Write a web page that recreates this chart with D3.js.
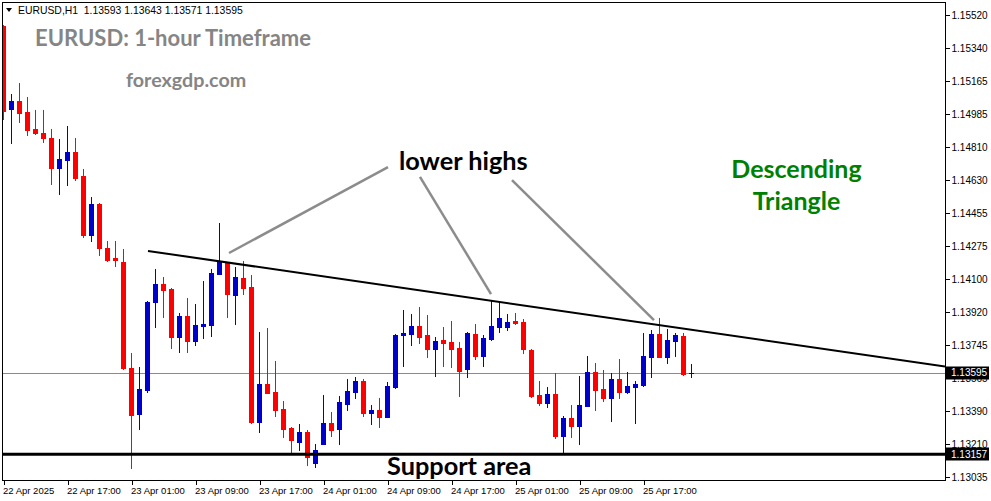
<!DOCTYPE html>
<html>
<head>
<meta charset="utf-8">
<script src="https://cdn.jsdelivr.net/npm/d3@7"></script>
<style>
  html, body { margin: 0; padding: 0; background: #fff; }
  svg { display: block; }
</style>
</head>
<body>
<svg id="chart" width="991" height="501"></svg>
<script>
// ---------- data ----------
const symbol = "EURUSD,H1";
const opens  = [1.15461,1.15014,1.15057,1.14998,1.14907,1.14885,1.14860,1.14699,1.14742,1.14783,
                1.14656,1.14338,1.14505,1.14265,1.14211,1.14190,1.13623,1.13375,1.13503,1.13978,
                1.14073,1.14046,1.13788,1.13901,1.13768,1.13847,1.13854,1.14128,1.14190,1.14014,
                1.14105,1.14057,1.13332,1.13535,1.13492,1.13401,1.13300,1.13223,1.13277,1.13112,
                1.13214,1.13325,1.13293,1.13430,1.13494,1.13551,1.13381,1.13395,1.13359,1.13519,
                1.13800,1.13806,1.13847,1.13799,1.13725,1.13772,1.13761,1.13729,1.13616,1.13804,
                1.13687,1.13777,1.13843,1.13843,1.13874,1.13869,1.13718,1.13476,1.13433,1.13481,
                1.13255,1.13352,1.13309,1.13417,1.13600,1.13508,1.13460,1.13562,1.13492,1.13519,
                1.13530,1.13680,1.13804,1.13680,1.13766,1.13793,1.13593];
const highs  = [1.15465,1.15095,1.15154,1.15079,1.15009,1.15009,1.14907,1.14855,1.14923,1.14858,
                1.14692,1.14541,1.14508,1.14304,1.14304,1.14261,1.13700,1.13628,1.13983,1.14154,
                1.14111,1.14050,1.13917,1.13998,1.13965,1.14089,1.14154,1.14403,1.14193,1.14166,
                1.14197,1.14122,1.13817,1.13838,1.13659,1.13444,1.13305,1.13320,1.13288,1.13212,
                1.13478,1.13385,1.13472,1.13562,1.13573,1.13562,1.13421,1.13460,1.13546,1.13804,
                1.13933,1.13913,1.13949,1.13906,1.13788,1.13842,1.13874,1.13761,1.13815,1.13858,
                1.13799,1.13982,1.13976,1.13912,1.13917,1.13885,1.13723,1.13551,1.13519,1.13594,
                1.13363,1.13422,1.13578,1.13686,1.13648,1.13611,1.13594,1.13670,1.13600,1.13551,
                1.13810,1.13826,1.13890,1.13831,1.13810,1.13810,1.13643];
const lows   = [1.14962,1.14833,1.14946,1.14875,1.14880,1.14838,1.14613,1.14559,1.14607,1.14634,
                1.14328,1.14306,1.14227,1.14197,1.14171,1.13618,1.13082,1.13293,1.13494,1.13842,
                1.13896,1.13730,1.13709,1.13709,1.13745,1.13784,1.13795,1.14128,1.13896,1.13858,
                1.14021,1.13324,1.13279,1.13485,1.13365,1.13250,1.13166,1.13180,1.13098,1.13087,
                1.13214,1.13255,1.13214,1.13398,1.13461,1.13365,1.13322,1.13306,1.13359,1.13514,
                1.13632,1.13747,1.13757,1.13682,1.13580,1.13632,1.13628,1.13472,1.13573,1.13670,
                1.13632,1.13772,1.13815,1.13826,1.13858,1.13704,1.13465,1.13422,1.13411,1.13245,
                1.13159,1.13250,1.13212,1.13417,1.13395,1.13444,1.13336,1.13460,1.13487,1.13325,
                1.13524,1.13573,1.13680,1.13648,1.13686,1.13585,1.13571];
const closes = [1.15005,1.15057,1.14994,1.14903,1.14887,1.14860,1.14699,1.14745,1.14783,1.14645,
                1.14337,1.14505,1.14268,1.14202,1.14202,1.13620,1.13368,1.13508,1.13978,1.14073,
                1.14041,1.13788,1.13901,1.13768,1.13853,1.13858,1.14132,1.14190,1.14021,1.14111,
                1.14052,1.13329,1.13535,1.13488,1.13395,1.13293,1.13234,1.13277,1.13144,1.13180,
                1.13325,1.13288,1.13438,1.13497,1.13551,1.13381,1.13395,1.13359,1.13524,1.13799,
                1.13811,1.13847,1.13790,1.13725,1.13766,1.13757,1.13725,1.13607,1.13810,1.13687,
                1.13783,1.13847,1.13890,1.13869,1.13863,1.13725,1.13471,1.13433,1.13481,1.13255,
                1.13352,1.13309,1.13422,1.13600,1.13503,1.13460,1.13562,1.13492,1.13524,1.13535,
                1.13686,1.13804,1.13680,1.13772,1.13799,1.13591,1.13595];

const priceTicks = [1.15520,1.15340,1.15165,1.14985,1.14810,1.14630,1.14455,1.14275,
                    1.14100,1.13920,1.13745,1.13565,1.13390,1.13210,1.13035];
const timeTickIdx    = [0, 8, 16, 24, 32, 40, 48, 56, 64, 72, 80];
const timeTickLabels = ["22 Apr 2025","22 Apr 17:00","23 Apr 01:00","23 Apr 09:00","23 Apr 17:00",
                        "24 Apr 01:00","24 Apr 09:00","24 Apr 17:00","25 Apr 01:00","25 Apr 09:00","25 Apr 17:00"];
const currentPrice = 1.13595;
const supportPrice = 1.13157;
// trend line (bar index, price)
const trendStart = [18.06, 1.14251];
const trendEnd   = [117.69, 1.13629];
// "lower highs" pointers: [fromIdx, fromPrice, toIdx, toPrice]
const pointers = [
  [48.06, 1.14702, 28.19, 1.14240],
  [52.06, 1.14649, 60.94, 1.14019],
  [63.56, 1.14632, 81.31, 1.13879]
];

// ---------- build ----------
const bars = opens.map((o, i) => ({ i, o, h: highs[i], l: lows[i], c: closes[i] }));

const svg = d3.select("#chart");
const W = 991, H = 501;
const plot = { left: 2, top: 2, right: 945, bottom: 480 };

svg.append("rect").attr("width", W).attr("height", H).attr("fill", "#fff");

const x = d3.scaleLinear().domain([0, 86]).range([3.5, 691.5]);
const y = d3.scaleLinear().domain([1.13019, 1.15590]).range([plot.bottom, plot.top]);

svg.append("clipPath").attr("id", "clip")
  .append("rect").attr("x", plot.left).attr("y", plot.top)
  .attr("width", plot.right - plot.left).attr("height", plot.bottom - plot.top);

const g = svg.append("g").attr("clip-path", "url(#clip)");

// current price line
g.append("line")
  .attr("x1", plot.left).attr("x2", plot.right)
  .attr("y1", Math.round(y(currentPrice)) + 0.5).attr("y2", Math.round(y(currentPrice)) + 0.5)
  .attr("stroke", "#8a8a8a").attr("stroke-width", 1);

// candles
const upColor = "#0000cc", downColor = "#ff0000";
const cg = g.append("g").attr("shape-rendering", "crispEdges");
cg.selectAll("line.wick").data(bars).join("line")
  .attr("class", "wick")
  .attr("x1", d => x(d.i)).attr("x2", d => x(d.i))
  .attr("y1", d => Math.round(y(d.h))).attr("y2", d => Math.round(y(d.l)) + 1)
  .attr("stroke", d => d.c >= d.o ? upColor : downColor).attr("stroke-width", 1);
cg.selectAll("rect.body").data(bars).join("rect")
  .attr("class", "body")
  .attr("x", d => x(d.i) - 2.5).attr("width", 5)
  .attr("y", d => Math.round(y(Math.max(d.o, d.c))))
  .attr("height", d => Math.max(1, Math.round(y(Math.min(d.o, d.c))) - Math.round(y(Math.max(d.o, d.c))) + 1))
  .attr("fill", d => d.c >= d.o ? upColor : downColor);

// support line
g.append("line")
  .attr("x1", 0).attr("x2", plot.right)
  .attr("y1", y(supportPrice)).attr("y2", y(supportPrice))
  .attr("stroke", "#000").attr("stroke-width", 3);

// trend line
g.append("line")
  .attr("x1", x(trendStart[0])).attr("y1", y(trendStart[1]))
  .attr("x2", x(trendEnd[0])).attr("y2", y(trendEnd[1]))
  .attr("stroke", "#000").attr("stroke-width", 2);

// pointer lines
g.selectAll("line.ptr").data(pointers).join("line")
  .attr("class", "ptr")
  .attr("x1", d => x(d[0])).attr("y1", d => y(d[1]))
  .attr("x2", d => x(d[2])).attr("y2", d => y(d[3]))
  .attr("stroke", "#8c8c8c").attr("stroke-width", 2.5);

// frame
svg.append("rect")
  .attr("x", plot.left + 0.5).attr("y", plot.top + 0.5)
  .attr("width", plot.right - plot.left).attr("height", plot.bottom - plot.top)
  .attr("fill", "none").attr("stroke", "#000").attr("stroke-width", 1)
  .attr("shape-rendering", "crispEdges");

// right price axis
const yAxis = d3.axisRight(y).tickValues(priceTicks).tickSize(4).tickPadding(2)
  .tickFormat(d3.format(".5f"));
const ya = svg.append("g").attr("transform", `translate(${plot.right + 0.5},0)`).call(yAxis);
ya.select(".domain").remove();
ya.selectAll("text").attr("font-family", "Liberation Sans, Arial, sans-serif")
  .attr("font-size", 10).attr("fill", "#000");
ya.selectAll("line").attr("shape-rendering", "crispEdges");

// bottom time axis
const xAxis = d3.axisBottom(x).tickValues(timeTickIdx).tickSize(4)
  .tickFormat((d, k) => timeTickLabels[k]);
const xa = svg.append("g").attr("transform", `translate(0,${plot.bottom + 0.5})`).call(xAxis);
xa.select(".domain").remove();
xa.selectAll("line").attr("shape-rendering", "crispEdges");
xa.selectAll("text").attr("text-anchor", "start").attr("dx", -1).attr("y", 7)
  .attr("font-family", "Liberation Sans, Arial, sans-serif").attr("font-size", 9.5).attr("fill", "#000");

// price boxes on axis
function priceBox(p) {
  const cy = y(p);
  svg.append("rect").attr("x", plot.right + 1).attr("y", Math.round(cy) - 6.5)
    .attr("width", 43).attr("height", 13).attr("fill", "#000");
  svg.append("text").attr("x", plot.right + 6).attr("y", cy).attr("dy", "0.35em")
    .attr("font-family", "Liberation Sans, Arial, sans-serif").attr("font-size", 10)
    .attr("fill", "#fff").text(d3.format(".5f")(p));
}
priceBox(currentPrice);
priceBox(supportPrice);

// header
const last = opens.length - 1;
svg.append("path").attr("d", "M6,8 L12,8 L9,12 Z").attr("fill", "#000");
svg.append("text").attr("x", 18).attr("y", 14)
  .attr("font-family", "Liberation Sans, Arial, sans-serif").attr("font-size", 10.4).attr("fill", "#000")
  .attr("xml:space", "preserve")
  .text(`${symbol}  ${d3.format(".5f")(opens[last])} ${d3.format(".5f")(highs[last])} ${d3.format(".5f")(lows[last])} ${d3.format(".5f")(closes[last])}`);

// annotations
const ann = svg.append("g").attr("font-family", "Lato, 'Open Sans', sans-serif").attr("font-weight", 700);
ann.append("text").attr("x", 35).attr("y", 46).attr("font-size", 22).attr("fill", "#858585")
  .text("EURUSD: 1-hour Timeframe");
ann.append("text").attr("x", 126).attr("y", 87).attr("font-size", 19.7).attr("fill", "#858585")
  .text("forexgdp.com");
ann.append("text").attr("x", 399).attr("y", 170).attr("font-size", 25.3).attr("fill", "#000")
  .text("lower highs");
ann.append("text").attr("x", 796.5).attr("y", 178).attr("text-anchor", "middle").attr("font-size", 25).attr("fill", "#008000")
  .text("Descending");
ann.append("text").attr("x", 796.5).attr("y", 210).attr("text-anchor", "middle").attr("font-size", 25).attr("fill", "#008000")
  .text("Triangle");
ann.append("text").attr("x", 387).attr("y", 475).attr("font-size", 25.3).attr("fill", "#000")
  .text("Support area");
</script>
</body>
</html>
